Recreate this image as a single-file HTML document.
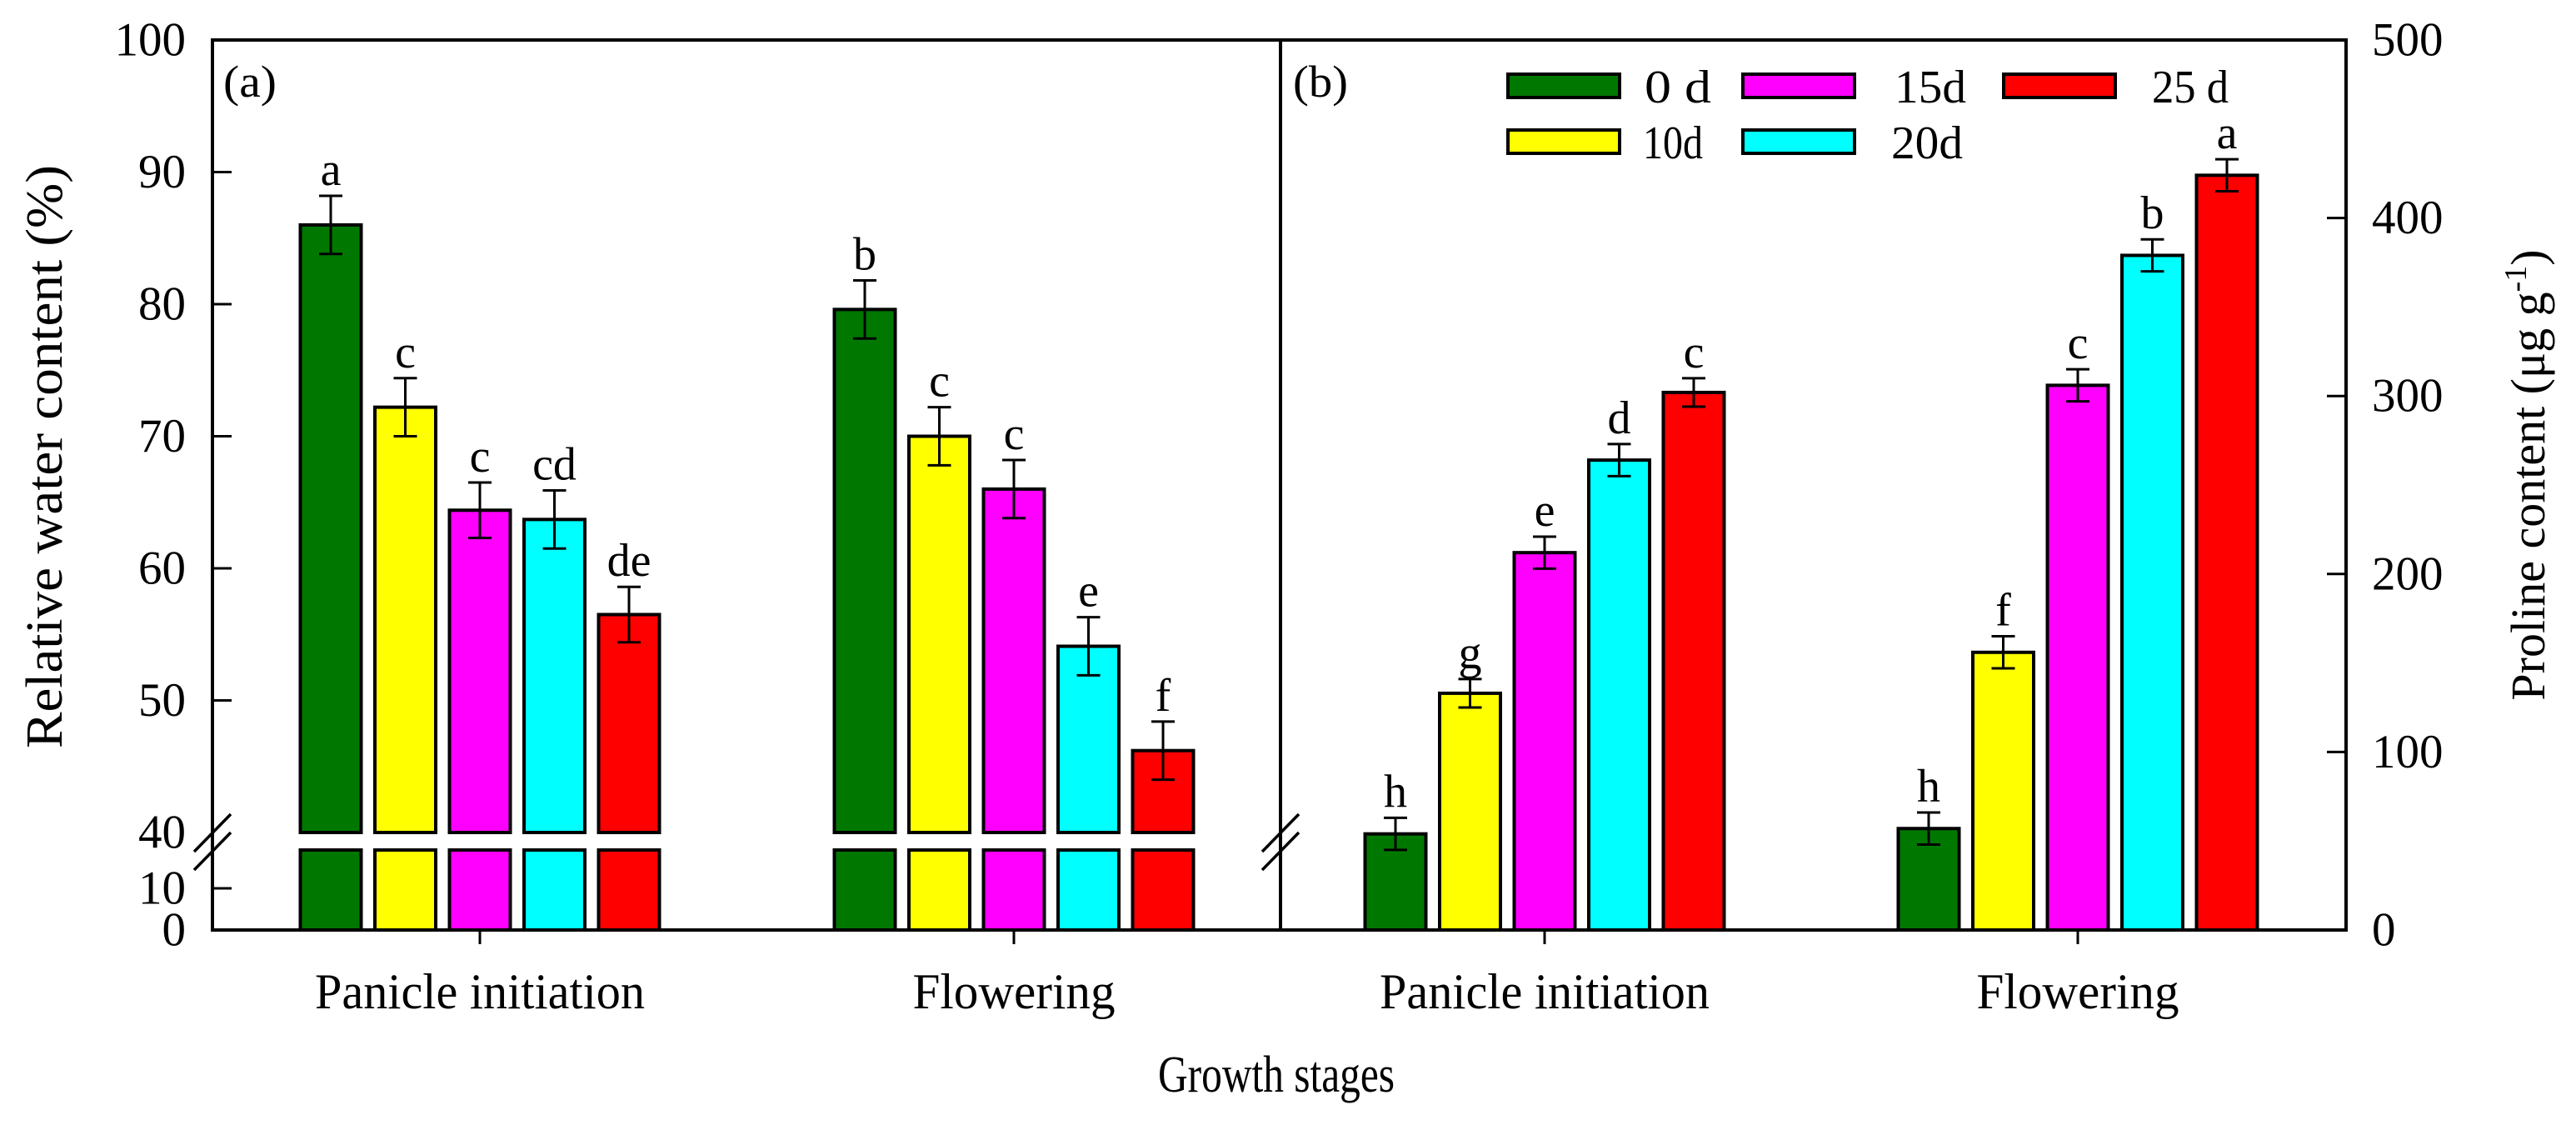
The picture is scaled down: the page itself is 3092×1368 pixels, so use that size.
<!DOCTYPE html>
<html><head><meta charset="utf-8"><style>
html,body{margin:0;padding:0;background:#fff}
svg{display:block}
text{font-family:"Liberation Serif",serif;fill:#000}
</style></head><body>
<svg id="chart" xmlns="http://www.w3.org/2000/svg" width="3092" height="1368" viewBox="0 0 3092 1368">
<g id="axes"></g>
<g id="bars"></g>
<g id="labels"></g>
</svg>
<script>
const stages = ["Panicle initiation", "Flowering"];
const series = ["0 d", "10d", "15d", "20d", "25 d"];
const colors = ["#007800", "#ffff00", "#ff00ff", "#00ffff", "#ff0000"];
const rwcPI = [86.0, 72.2, 64.4, 63.7, 56.5];
const rwcFL = [79.6, 70.0, 66.0, 54.1, 46.2];
const rwcErrPI = [2.2, 2.2, 2.1, 2.2, 2.1];
const rwcErrFL = [2.2, 2.2, 2.2, 2.2, 2.2];
const rwcLetPI = ["a", "c", "c", "cd", "de"];
const rwcLetFL = ["b", "c", "c", "e", "f"];
const proPI = [54, 133, 212, 264, 302];
const proFL = [57, 156, 306, 379, 424];
const proErrPI = [9, 8, 9, 9, 8];
const proErrFL = [9, 9, 9, 9, 9];
const proLetPI = ["h", "g", "e", "d", "c"];
const proLetFL = ["h", "f", "c", "b", "a"];
const leftTicksUpper = [40, 50, 60, 70, 80, 90, 100];
const leftTicksLower = [0, 10];
const rightTicks = [0, 100, 200, 300, 400, 500];

const NS = "http://www.w3.org/2000/svg";
const gA = document.getElementById("axes"), gB = document.getElementById("bars"), gL = document.getElementById("labels");
function mk(tag, attrs, parent, txt) {
  const e = document.createElementNS(NS, tag);
  for (const k in attrs) e.setAttribute(k, attrs[k]);
  if (txt !== undefined) e.textContent = txt;
  parent.appendChild(e);
  return e;
}
const X0 = 255, X1 = 2816, XM = 1537, YT = 48, YB = 1116;
const BREAK_LO = 999, BREAK_HI = 1020;
function yLeft(v) { return v >= 40 ? BREAK_LO - (v - 40) * (BREAK_LO - YT) / 60 : YB - v * 5; }
function yRight(v) { return YB - v * (YB - YT) / 500; }
const groupA = [576, 1217], groupB = [1854, 2494];
const PITCH = 89.5, BW = 73;
function xBar(center, i) { return center + (i - 2) * PITCH; }

let e;
e = mk("rect", {x: X0, y: YT, width: X1 - X0, height: YB - YT, fill: "none", stroke: "#000", "stroke-width": 4}, gA);


e = mk("line", {x1: XM, y1: YT, x2: XM, y2: YB, stroke: "#000", "stroke-width": 4}, gA);


[[X0, 'left-axis-break'], [XM, 'panel-b-axis-break']].forEach(([bx, nm]) => {
  const g = mk("g", {}, gA);
  
  
  mk("line", {x1: bx - 22, y1: 1022, x2: bx + 22, y2: 977, stroke: "#000", "stroke-width": 3.5}, g);
  mk("line", {x1: bx - 22, y1: 1044, x2: bx + 22, y2: 999, stroke: "#000", "stroke-width": 3.5}, g);
});
leftTicksUpper.concat(leftTicksLower).forEach(v => {
  const y = yLeft(v);
  if (v !== 100 && v !== 0 && v !== 40) { e = mk("line", {x1: X0, y1: y, x2: X0 + 23, y2: y, stroke: "#000", "stroke-width": 3}, gA);
    
     }
  e = mk("text", {x: 223, y: y, "text-anchor": "end", "dominant-baseline": "central", "font-size": 57}, gA, String(v));
  
  
});
rightTicks.forEach(v => {
  const y = yRight(v);
  if (v !== 0 && v !== 500) { e = mk("line", {x1: X1 - 23, y1: y, x2: X1, y2: y, stroke: "#000", "stroke-width": 3}, gA);
    
     }
  e = mk("text", {x: 2847, y: y, "text-anchor": "start", "dominant-baseline": "central", "font-size": 57}, gA, String(v));
  
  
});
groupA.concat(groupB).forEach((cx, k) => {
  e = mk("line", {x1: cx, y1: YB, x2: cx, y2: YB + 17, stroke: "#000", "stroke-width": 3}, gA);
  
  
  const name = stages[k % 2];
  e = mk("text", {x: cx, y: 1210, "text-anchor": "middle", "font-size": 60, textLength: k % 2 ? 243 : 396, lengthAdjust: "spacingAndGlyphs"}, gA, name);
  
  
});

function drawBar(x, yTop, yBot, color, nm) {
  e = mk("rect", {x: x - BW / 2, y: yTop, width: BW, height: yBot - yTop, fill: color, stroke: "#000", "stroke-width": 4}, gB);
  
  
}
function drawErr(x, yHi, yLo) {
  const g = mk("g", {stroke: "#000", "stroke-width": 3}, gB);
  
  
  mk("line", {x1: x, y1: yHi, x2: x, y2: yLo}, g);
  mk("line", {x1: x - 14, y1: yHi, x2: x + 14, y2: yHi}, g);
  mk("line", {x1: x - 14, y1: yLo, x2: x + 14, y2: yLo}, g);
}
function drawLetter(x, y, t) {
  e = mk("text", {x: x, y: y - 13, "text-anchor": "middle", "font-size": 56}, gL, t);
  
  
}
[[rwcPI, rwcErrPI, rwcLetPI], [rwcFL, rwcErrFL, rwcLetFL]].forEach(([vals, errs, lets], g) => {
  vals.forEach((v, i) => {
    const x = xBar(groupA[g], i);
    drawBar(x, yLeft(v), BREAK_LO, colors[i], 'rwc-bar');
    drawBar(x, BREAK_HI, YB, colors[i], 'rwc-bar-lower');
    const hi = yLeft(v + errs[i]);
    drawErr(x, hi, yLeft(v - errs[i]));
    drawLetter(x, hi, lets[i]);
  });
});
[[proPI, proErrPI, proLetPI], [proFL, proErrFL, proLetFL]].forEach(([vals, errs, lets], g) => {
  vals.forEach((v, i) => {
    const x = xBar(groupB[g], i);
    drawBar(x, yRight(v), YB, colors[i], 'proline-bar');
    const hi = yRight(v + errs[i]);
    drawErr(x, hi, yRight(v - errs[i]));
    drawLetter(x, hi, lets[i]);
  });
});
const legPos = [[1810, 89, 1974], [1810, 156, 1972], [2092, 89, 2274], [2092, 156, 2270], [2405, 89, 2583]];
const legW = [80, 72, 86, 86, 92];
series.forEach((s, i) => {
  const [sx, sy, tx] = legPos[i];
  const g = mk("g", {}, gL);
  
  
  mk("rect", {x: sx, y: sy, width: 134, height: 28, fill: colors[i], stroke: "#000", "stroke-width": 4}, g);
  mk("text", {x: tx, y: sy + 34, "font-size": 56, textLength: legW[i], lengthAdjust: "spacingAndGlyphs"}, g, s);
});
e = mk("text", {x: 268, y: 116, "font-size": 54, textLength: 64, lengthAdjust: "spacingAndGlyphs"}, gL, "(a)");


e = mk("text", {x: 1552, y: 116, "font-size": 54, textLength: 66, lengthAdjust: "spacingAndGlyphs"}, gL, "(b)");


e = mk("text", {x: 0, y: 0, "text-anchor": "middle", "font-size": 62, textLength: 700, lengthAdjust: "spacingAndGlyphs", transform: "translate(74,548) rotate(-90)"}, gL, "Relative water content (%)");


const rt = mk("text", {x: 0, y: 0, "text-anchor": "middle", "font-size": 58, transform: "translate(3054,570) rotate(-90)"}, gL);


mk("tspan", {}, rt, "Proline content (μg g");
mk("tspan", {dy: -22, "font-size": 38}, rt, "-1");
mk("tspan", {dy: 22}, rt, ")");
e = mk("text", {x: 1532, y: 1310, "text-anchor": "middle", "font-size": 62, textLength: 284, lengthAdjust: "spacingAndGlyphs"}, gL, "Growth stages");


</script>
</body></html>
